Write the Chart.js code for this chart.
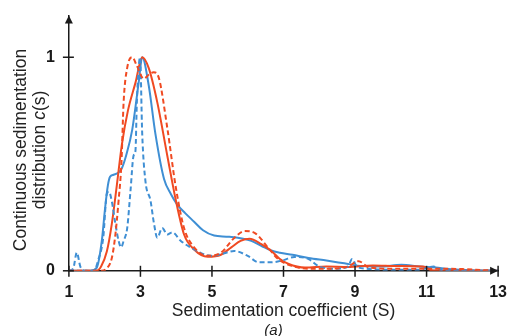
<!DOCTYPE html>
<html>
<head>
<meta charset="utf-8">
<script src="https://cdn.jsdelivr.net/npm/chart.js@4.4.1/dist/chart.umd.min.js"></script>
<style>
  html, body { margin: 0; padding: 0; background: #fff; overflow: hidden; }
  #wrap { width: 511px; height: 336px; }
</style>
</head>
<body>
<div id="wrap"><canvas id="chart"></canvas></div>
<script>
// Sedimentation coefficient (S) vs normalised c(s), four runs
const X_TICKS = [1, 3, 5, 7, 9, 11, 13];
const Y_TICKS = [0, 1];

const blueSolidX = [1, 1.6, 1.78, 1.92, 2.01, 2.09, 2.15, 2.25, 2.39, 2.48, 2.6, 2.77, 2.95, 3.05, 3.23, 3.42, 3.66, 3.85, 4.03, 4.25, 4.5, 4.75, 5.06, 5.4, 5.72, 6.1, 6.4, 6.66, 6.9, 7.25, 7.7, 8.2, 8.7, 9.2, 9.7, 10.3, 10.8, 11.25, 11.6, 12.2, 13];
const blueSolidY = [0, 0, 0.015, 0.14, 0.29, 0.40, 0.44, 0.45, 0.46, 0.48, 0.54, 0.66, 0.88, 1.0, 0.87, 0.64, 0.43, 0.36, 0.31, 0.27, 0.23, 0.19, 0.165, 0.16, 0.155, 0.14, 0.115, 0.095, 0.085, 0.075, 0.06, 0.048, 0.035, 0.022, 0.02, 0.028, 0.02, 0.016, 0.008, 0.003, 0];

const blueDashX = [1, 1.12, 1.22, 1.32, 1.45, 1.7, 1.82, 1.96, 2.06, 2.12, 2.2, 2.3, 2.39, 2.46, 2.53, 2.63, 2.72, 2.81, 2.86, 2.9, 2.95, 2.99, 3.05, 3.14, 3.28, 3.38, 3.47, 3.61, 3.75, 3.89, 4.13, 4.5, 4.97, 5.3, 5.62, 6.0, 6.3, 6.66, 7.0, 7.3, 7.7, 8.0, 8.5, 8.8, 8.92, 9.05, 9.3, 10, 10.8, 11.2, 11.4, 12, 13];
const blueDashY = [0, 0.01, 0.085, 0.02, 0, 0, 0.05, 0.155, 0.36, 0.37, 0.325, 0.22, 0.14, 0.11, 0.14, 0.2, 0.37, 0.54, 0.56, 0.79, 0.95, 1.0, 0.64, 0.42, 0.33, 0.22, 0.155, 0.2, 0.17, 0.18, 0.14, 0.1, 0.07, 0.08, 0.093, 0.07, 0.04, 0.04, 0.05, 0.065, 0.055, 0.02, 0.01, 0.02, 0.055, 0.02, 0.01, 0.005, 0.005, 0.02, 0.005, 0, 0];

const redSolidX = [1, 1.6, 1.78, 1.9, 2.06, 2.2, 2.34, 2.48, 2.65, 2.86, 3.05, 3.23, 3.47, 3.75, 3.99, 4.22, 4.5, 4.88, 5.25, 5.54, 5.8, 6.05, 6.38, 6.66, 6.9, 7.13, 7.6, 8.2, 8.8, 9.5, 10.2, 10.9, 11.15, 12, 13];
const redSolidY = [0, 0, 0, 0.02, 0.09, 0.22, 0.40, 0.59, 0.75, 0.88, 1.0, 0.95, 0.79, 0.54, 0.33, 0.17, 0.1, 0.066, 0.075, 0.11, 0.14, 0.15, 0.125, 0.093, 0.055, 0.033, 0.015, 0.02, 0.018, 0.025, 0.022, 0.02, 0.002, 0, 0];

const redDashX = [1, 1.9, 2.05, 2.2, 2.3, 2.39, 2.47, 2.53, 2.63, 2.77, 2.9, 3.09, 3.25, 3.37, 3.52, 3.75, 3.99, 4.22, 4.5, 4.88, 5.25, 5.63, 5.91, 6.19, 6.57, 6.85, 7.23, 7.7, 8.3, 8.8, 9.1, 9.4, 10, 11, 12, 12.6, 13];
const redDashY = [0, 0, 0.01, 0.06, 0.17, 0.33, 0.51, 0.79, 0.95, 1.0, 0.96, 0.9, 0.92, 0.93, 0.9, 0.67, 0.39, 0.2, 0.11, 0.07, 0.085, 0.155, 0.186, 0.178, 0.108, 0.055, 0.023, 0.01, 0.01, 0.02, 0.045, 0.015, 0.01, 0.01, 0.008, 0.003, 0];

const BLUE = '#3f8fd4';
const RED = '#f04a22';
const AXIS = '#1a1a1a';
const FONT = "'Liberation Sans', Arial, sans-serif";
const TITLE_SIZE = 17.5;

const toPoints = (xs, ys) => xs.map((x, i) => ({ x, y: ys[i] }));

function series(label, xs, ys, color, dashed) {
  return {
    label,
    data: toPoints(xs, ys),
    borderColor: color,
    backgroundColor: color,
    borderWidth: 2,
    borderDash: dashed ? [5, 3] : [],
    pointRadius: 0,
    fill: false,
    cubicInterpolationMode: 'monotone',
  };
}

// axis arrows, crossing tick marks and the rotated y title with italic c
const axisDecor = {
  id: 'axisDecor',
  afterDraw(chart) {
    const { ctx, chartArea, scales } = chart;
    const x0 = chartArea.left, y0 = chartArea.bottom;
    ctx.save();
    ctx.strokeStyle = AXIS;
    ctx.fillStyle = AXIS;
    ctx.lineWidth = 1.5;
    X_TICKS.forEach(v => {
      const px = scales.x.getPixelForValue(v);
      ctx.beginPath(); ctx.moveTo(px, y0 - 5); ctx.lineTo(px, y0 + 6); ctx.stroke();
    });
    Y_TICKS.forEach(v => {
      const py = scales.y.getPixelForValue(v);
      ctx.beginPath(); ctx.moveTo(x0 - 6, py); ctx.lineTo(x0 + 5, py); ctx.stroke();
    });
    // filled arrow heads
    const top = chartArea.top, right = chartArea.right;
    ctx.beginPath();
    ctx.moveTo(x0 - 4, top + 8); ctx.lineTo(x0, top); ctx.lineTo(x0 + 4, top + 8);
    ctx.closePath(); ctx.fill();
    ctx.beginPath();
    ctx.moveTo(right - 8, y0 - 4); ctx.lineTo(right, y0); ctx.lineTo(right - 8, y0 + 4);
    ctx.closePath(); ctx.fill();

    // y title
    const cy = 150;
    const f = TITLE_SIZE + 'px ' + FONT, fi = 'italic ' + TITLE_SIZE + 'px ' + FONT;
    ctx.fillStyle = '#222';
    ctx.textBaseline = 'middle';
    ctx.save();
    ctx.translate(21, cy);
    ctx.rotate(-Math.PI / 2);
    ctx.font = f;
    ctx.textAlign = 'center';
    ctx.fillText('Continuous sedimentation', 0, 0);
    ctx.restore();

    ctx.save();
    ctx.translate(40, cy);
    ctx.rotate(-Math.PI / 2);
    const a = 'distribution ', b = 'c', c = '(s)';
    ctx.font = f;
    const wa = ctx.measureText(a).width, wc = ctx.measureText(c).width;
    ctx.font = fi;
    const wb = ctx.measureText(b).width;
    const sx = -(wa + wb + wc) / 2;
    ctx.textAlign = 'left';
    ctx.font = f;
    ctx.fillText(a, sx, 0);
    ctx.font = fi;
    ctx.fillText(b, sx + wa, 0);
    ctx.font = f;
    ctx.fillText(c, sx + wa + wb, 0);
    ctx.restore();
    ctx.restore();
  }
};

new Chart(document.getElementById('chart').getContext('2d'), {
  type: 'line',
  data: {
    datasets: [
      series('Run 1', redDashX, redDashY, RED, true),
      series('Run 2', blueDashX, blueDashY, BLUE, true),
      series('Run 3', redSolidX, redSolidY, RED, false),
      series('Run 4', blueSolidX, blueSolidY, BLUE, false),
    ],
  },
  options: {
    responsive: true,
    maintainAspectRatio: false,
    animation: false,
    layout: { padding: { left: 40, right: 4, top: 10, bottom: 0 } },
    plugins: {
      legend: { display: false },
      tooltip: { enabled: false },
      title: {
        display: true,
        position: 'bottom',
        text: '(a)',
        color: '#222',
        font: { family: FONT, size: 15, style: 'italic', weight: 'normal' },
        padding: { top: 0, bottom: -4 },
      },
    },
    scales: {
      x: {
        type: 'linear',
        min: 1,
        max: 13,
        afterBuildTicks: s => { s.ticks = X_TICKS.map(v => ({ value: v })); },
        grid: { display: false },
        border: { display: true, color: AXIS, width: 1.5 },
        ticks: {
          color: '#1a1a1a',
          padding: 4,
          autoSkip: false,
          maxRotation: 0,
          font: { family: FONT, size: 16, weight: 'bold' },
        },
        title: {
          display: true,
          text: 'Sedimentation coefficient (S)',
          color: '#222',
          font: { family: FONT, size: TITLE_SIZE },
          padding: { top: -5, bottom: 0 },
        },
      },
      y: {
        min: 0,
        max: 1.195,
        afterBuildTicks: s => { s.ticks = Y_TICKS.map(v => ({ value: v })); },
        grid: { display: false },
        border: { display: true, color: AXIS, width: 1.5 },
        ticks: {
          color: '#1a1a1a',
          padding: 6,
          font: { family: FONT, size: 16, weight: 'bold' },
        },
      },
    },
  },
  plugins: [axisDecor],
});
</script>
</body>
</html>
